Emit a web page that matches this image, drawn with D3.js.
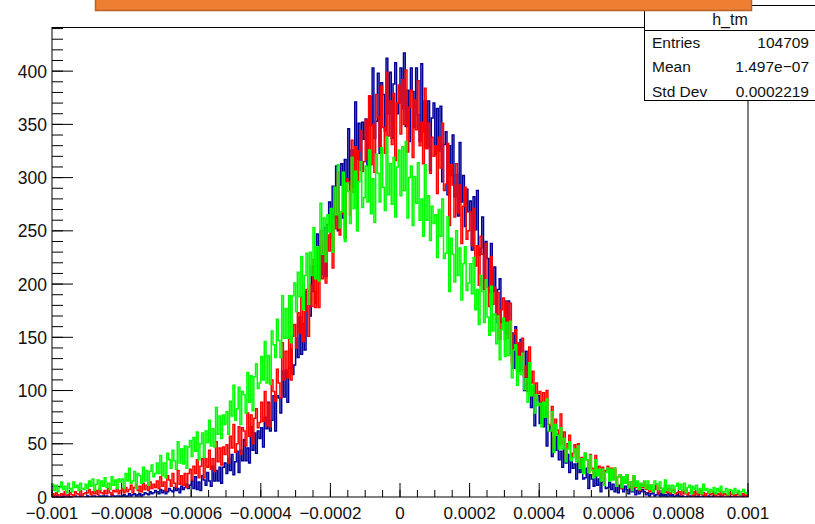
<!DOCTYPE html>
<html>
<head>
<meta charset="utf-8">
<script src="https://cdn.jsdelivr.net/npm/d3@7"></script>
<style>
  body { margin: 0; background: #fff; }
  svg { display: block; font-family: "Liberation Sans", Arial, Helvetica, sans-serif; }
</style>
</head>
<body>
<svg id="chart" width="815" height="524"></svg>
<script>
// histogram range (x) and counts per bin
const xRange = [-0.001, 0.001];
const yRange = [0, 441];

const blueCounts = [
  0,0,1,0,0,0,1,0,0,1, 0,0,0,1,0,0,1,0,0,0, 1,0,0,1,1,0,0,1,0,1, 0,1,0,0,2,1,0,1,1,0,
  1,2,0,1,3,1,2,3,1,2, 3,1,2,4,3,2,5,3,4,6, 5,3,7,4,6,3,5,8,6,5, 9,6,8,4,10,7,9,12,8,11,
  15,8,19,7,14,6,20,16,11,23, 15,10,29,15,25,15,28,13,28,32,
  22,36,25,40,21,33,43,23,44,34, 54,34,46,32,66,44,60,41,62,55,
  65,47,75,64,89,62,72,95,62,95, 93,79,118,94,119,89,121,139,115,124,
  149,131,169,134,163,138,193,186,170,217, 193,182,247,205,236,209,253,207,256,277,
  243,292,262,311,250,293,313,262,317,296, 346,294,326,291,371,317,351,307,352,336,
  355,311,376,349,403,337,353,398,323,389, 378,344,412,360,399,337,388,408,360,370,
  403,365,417,348,382,334,403,381,347,403, 359,334,407,343,372,328,372,307,356,370,
  322,365,325,367,296,331,343,284,330,302, 340,282,303,264,333,277,302,254,289,268,
  278,232,282,251,288,227,234,263,195,240, 224,192,238,193,216,164,195,205,164,165,
  184,153,184,135,154,121,160,143,118,148, 119,100,137,99,111,84,104,67,91,95,
  69,89,66,84,48,62,66,38,56,44, 59,35,43,28,53,32,40,23,34,27,
  31,17,32,23,35,17,18,27,8,21, 17,10,23,11,17,5,14,18,8,9,
  14,7,12,5,10,4,11,8,5,10, 7,3,10,5,8,2,6,3,5,7,
  5,2,4,1,3,5,1,2,4,1, 3,1,2,0,3,1,2,0,1,2,
  1,0,1,0,0,1,1,0,1,0, 0,1,0,0,1,0,0,1,0,0, 1,0,0,0,1,0,0,0,1,0, 0,0,1,0,0,0,0,1,0,0
];

const redCounts = [
  3,1,4,2,0,3,2,5,1,2, 4,2,1,5,3,2,6,1,3,4,
  4,7,2,5,3,6,2,7,4,3, 6,3,8,4,2,6,5,8,3,6,
  8,4,9,5,7,11,4,9,12,6, 10,5,13,7,11,6,14,8,12,9,
  15,8,19,10,14,6,20,16,10,22, 13,9,25,12,20,11,22,9,22,26,
  16,29,22,35,18,29,36,18,36,28, 44,26,36,24,52,33,46,30,47,40,
  49,32,57,46,68,42,50,66,40,65, 62,48,79,57,77,50,74,83,65,70,
  89,71,99,67,88,66,110,99,90,120, 107,93,145,110,137,112,149,110,151,162,
  140,173,154,188,146,174,195,151,199,179, 223,178,208,178,250,205,240,201,246,231,
  254,215,277,252,305,246,266,303,243,299, 296,265,335,286,329,271,325,344,306,315,
  354,317,377,312,350,305,378,357,329,386, 347,323,399,339,372,331,379,316,370,387,
  341,392,350,401,324,366,382,319,373,345, 391,330,352,313,384,327,351,304,338,320,
  330,285,338,309,351,288,294,332,255,312, 293,263,313,267,293,238,273,291,242,250,
  268,236,271,217,236,199,245,228,195,238, 197,179,226,181,197,167,192,148,176,187,
  148,183,149,182,126,153,157,118,145,128, 149,113,123,100,141,107,118,91,107,97,
  99,75,98,83,100,68,67,85,46,73, 63,49,78,50,61,37,50,58,37,41,
  49,36,50,29,37,23,41,35,23,40, 27,20,39,22,29,18,28,12,25,29,
  16,27,17,27,10,19,21,8,19,13, 21,9,14,6,20,9,14,6,12,9,
  14,7,11,5,11,6,7,12,3,9, 8,4,11,4,8,3,6,7,3,4,
  5,2,6,3,7,2,4,6,1,5, 3,2,6,2,4,1,3,5,2,3,
  4,1,3,2,5,1,3,2,1,4, 2,3,1,2,4,1,2,3,1,2
];

const greenCounts = [
  12,6,11,5,9,14,7,10,4,13, 8,5,14,9,11,6,13,8,7,12,
  8,15,10,17,6,12,16,7,15,10, 18,9,13,7,19,11,16,8,17,14,
  17,8,22,15,27,13,15,24,8,22, 20,13,28,15,25,11,24,30,19,22,
  32,22,39,20,32,18,41,35,27,44, 34,26,52,32,45,31,48,27,47,53,
  38,56,43,61,35,50,60,37,62,51, 72,48,64,47,84,59,76,55,77,68,
  80,59,90,76,105,72,83,103,68,99, 96,79,117,89,114,81,113,125,102,107,
  132,110,146,107,133,106,156,143,131,167, 147,131,189,149,177,149,189,145,189,201,
  174,211,188,226,176,208,229,181,230,208, 253,205,235,203,276,228,262,221,265,249,
  271,230,291,265,312,253,268,305,240,295, 287,257,319,271,306,250,296,315,272,281,
  311,277,326,266,299,258,322,304,277,328, 291,269,338,284,313,275,319,263,310,326,
  283,329,288,334,262,300,311,255,301,276, 314,260,280,245,312,260,283,241,273,257,
  265,225,270,245,280,224,229,263,193,243, 228,202,250,208,234,185,219,235,194,201,
  219,191,225,176,195,162,208,193,164,204, 169,152,198,156,172,144,170,129,157,168,
  132,164,133,165,112,138,143,105,132,115, 135,101,111,89,126,95,105,79,96,86,
  88,66,89,75,92,62,62,80,42,68, 58,45,65,45,55,33,45,52,34,37,
  45,33,48,27,36,22,41,35,23,39, 25,18,35,20,26,15,26,11,23,27,
  15,26,16,27,10,19,21,9,19,13, 21,9,14,6,20,10,15,7,13,10,
  15,8,15,7,11,5,15,12,7,14, 8,4,16,6,11,5,11,4,10,13,
  7,12,6,13,4,9,11,3,10,7, 11,4,8,3,12,6,8,4,7,5,
  9,3,8,5,10,4,5,8,2,7, 6,3,8,4,6,2,5,7,4,3
];

const xTicks = [-0.001, -0.0008, -0.0006, -0.0004, -0.0002, 0, 0.0002, 0.0004, 0.0006, 0.0008, 0.001];
const xTickLabels = ["\u22120.001", "\u22120.0008", "\u22120.0006", "\u22120.0004", "\u22120.0002", "0", "0.0002", "0.0004", "0.0006", "0.0008", "0.001"];
const yTicks = [0, 50, 100, 150, 200, 250, 300, 350, 400];

const statsTitle = "h_tm";
const statsRows = [["Entries", "104709"], ["Mean", "1.497e\u221207"], ["Std Dev", "0.0002219"]];

const svg = d3.select("#chart");
const frame = { left: 52, right: 748, top: 27.5, bottom: 497 };

const x = d3.scaleLinear().domain(xRange).range([frame.left, frame.right]);
const y = d3.scaleLinear().domain(yRange).range([frame.bottom, frame.top]);

svg.append("defs").append("clipPath").attr("id", "plotclip")
  .append("rect")
  .attr("x", frame.left).attr("y", frame.top)
  .attr("width", frame.right - frame.left).attr("height", frame.bottom - frame.top);

// x axis: major ticks + 4 minor subdivisions, ticks pointing inwards
const xMinor = d3.range(0, 41).map(i => xRange[0] + i * 0.00005);
const gx = svg.append("g");
gx.selectAll("line.minor").data(xMinor).enter().append("line")
  .attr("x1", d => x(d)).attr("x2", d => x(d))
  .attr("y1", frame.bottom).attr("y2", frame.bottom - 7)
  .attr("stroke", "#000").attr("stroke-width", 1);
gx.selectAll("line.major").data(xTicks).enter().append("line")
  .attr("x1", d => x(d)).attr("x2", d => x(d))
  .attr("y1", frame.bottom).attr("y2", frame.bottom - 14)
  .attr("stroke", "#000").attr("stroke-width", 1);
gx.selectAll("text").data(xTicks).enter().append("text")
  .attr("x", d => x(d)).attr("y", 519)
  .attr("text-anchor", "middle")
  .attr("font-size", 17)
  .attr("fill", "#111")
  .text((d, i) => xTickLabels[i]);

// y axis: major every 50, minor every 10
const yMinor = d3.range(0, 45).map(i => i * 10).filter(v => v <= yRange[1]);
const gy = svg.append("g");
gy.selectAll("line.minor").data(yMinor).enter().append("line")
  .attr("x1", frame.left).attr("x2", frame.left + 11)
  .attr("y1", d => y(d)).attr("y2", d => y(d))
  .attr("stroke", "#000").attr("stroke-width", 1);
gy.selectAll("line.major").data(yTicks).enter().append("line")
  .attr("x1", frame.left).attr("x2", frame.left + 21)
  .attr("y1", d => y(d)).attr("y2", d => y(d))
  .attr("stroke", "#000").attr("stroke-width", 1);
gy.selectAll("text").data(yTicks).enter().append("text")
  .attr("x", 47).attr("y", d => y(d) + 6.5)
  .attr("text-anchor", "end")
  .attr("font-size", 17.5)
  .attr("fill", "#111")
  .text(d => d);

// histograms drawn as steps
function stepPoints(counts) {
  const w = (xRange[1] - xRange[0]) / counts.length;
  const pts = [];
  counts.forEach((c, i) => {
    pts.push([xRange[0] + i * w, c]);
    pts.push([xRange[0] + (i + 1) * w, c]);
  });
  return pts;
}
const line = d3.line().x(d => x(d[0])).y(d => y(d[1]));

const hists = [
  { counts: blueCounts, color: "#000099" },
  { counts: redCounts, color: "#ff0000" },
  { counts: greenCounts, color: "#00ff00" }
];
const gh = svg.append("g").attr("clip-path", "url(#plotclip)");
hists.forEach(h => {
  gh.append("path")
    .attr("d", line(stepPoints(h.counts)))
    .attr("fill", "none")
    .attr("stroke", h.color)
    .attr("stroke-width", 1.5);
});

// frame
svg.append("rect")
  .attr("x", frame.left).attr("y", frame.top)
  .attr("width", frame.right - frame.left).attr("height", frame.bottom - frame.top)
  .attr("fill", "none").attr("stroke", "#000").attr("stroke-width", 1);

// stats box
const sb = { x: 644.5, y: 5.5, w: 175, h: 95 };
svg.append("rect")
  .attr("x", sb.x).attr("y", sb.y).attr("width", sb.w).attr("height", sb.h)
  .attr("fill", "#fff").attr("stroke", "#000").attr("stroke-width", 1);
svg.append("line")
  .attr("x1", sb.x).attr("x2", sb.x + sb.w).attr("y1", 30.5).attr("y2", 30.5)
  .attr("stroke", "#000").attr("stroke-width", 1);
svg.append("text")
  .attr("x", 730).attr("y", 25).attr("text-anchor", "middle")
  .attr("font-size", 16).attr("fill", "#111")
  .text(statsTitle);
statsRows.forEach((r, i) => {
  const by = 48 + i * 24.3;
  svg.append("text").attr("x", 652).attr("y", by)
    .attr("font-size", 15.5).attr("fill", "#111").text(r[0]);
  svg.append("text").attr("x", 809).attr("y", by).attr("text-anchor", "end")
    .attr("font-size", 15.5).attr("fill", "#111").text(r[1]);
});

// title box (cut off at the top)
svg.append("rect")
  .attr("x", 95.5).attr("y", -6).attr("width", 656).attr("height", 16.5)
  .attr("fill", "#ee7e32").attr("stroke", "#b4632a").attr("stroke-width", 1.5);
</script>
</body>
</html>
